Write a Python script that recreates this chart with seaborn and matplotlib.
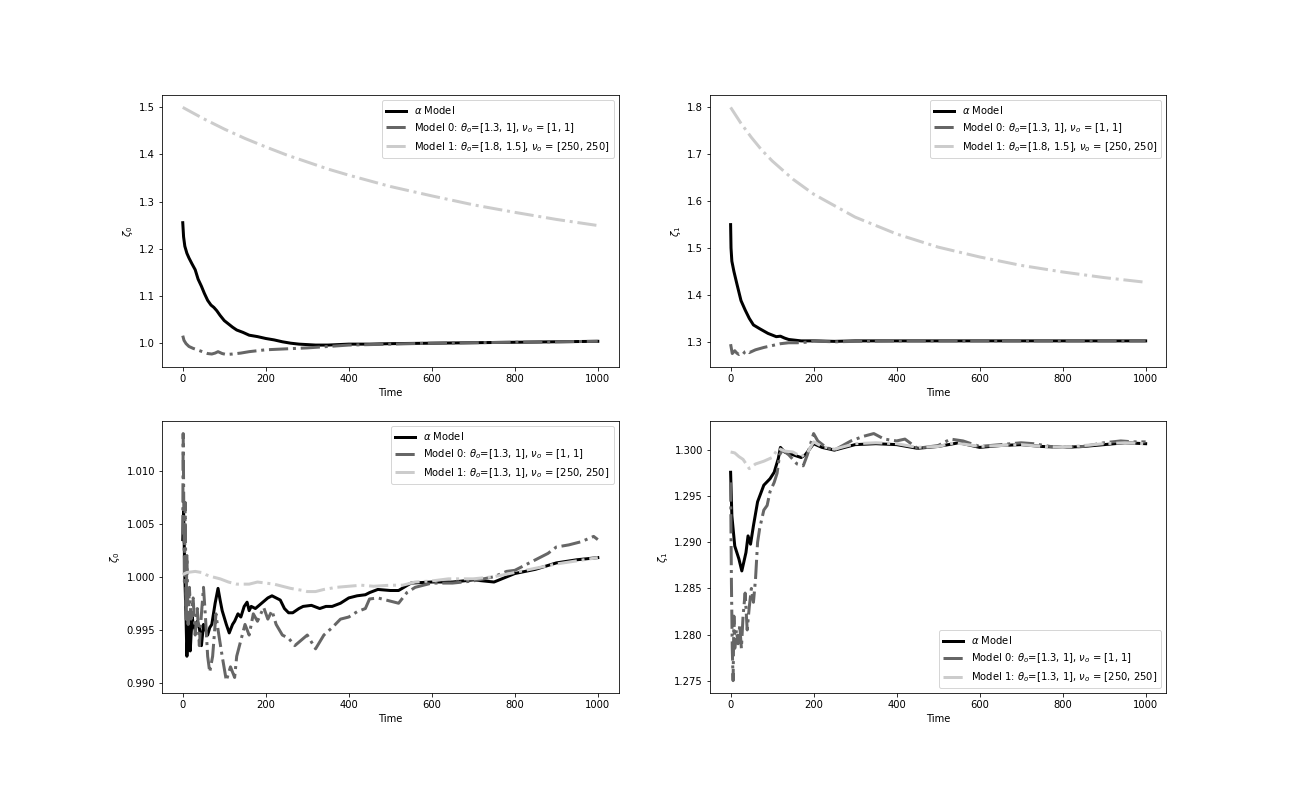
import matplotlib
matplotlib.use("Agg")
import matplotlib.pyplot as plt
import seaborn as sns

# colours / labels
c_alpha = "black"
c_m0 = "0.4"
c_m1 = "0.8"

lab_alpha = r"$\alpha$ Model"
lab_m0 = r"Model 0: $\theta_o$=[1.3, 1], $\nu_o$ = [1, 1]"
lab_m1_top = r"Model 1: $\theta_o$=[1.8, 1.5], $\nu_o$ = [250, 250]"
lab_m1_bot = r"Model 1: $\theta_o$=[1.3, 1], $\nu_o$ = [250, 250]"

# ---- top left: zeta_0, model 1 with far-off prior
t_a0_alpha = [0, 2, 5, 10, 15, 22, 30, 37, 45, 52, 60, 68, 75, 82, 90, 100, 110, 120, 130, 145,
              160, 180, 200, 220, 240, 260, 280, 300, 320, 350, 400, 450, 500, 600, 700, 800, 900, 1000]
z_a0_alpha = [1.255, 1.225, 1.205, 1.190, 1.180, 1.168, 1.155, 1.135, 1.120, 1.105, 1.090, 1.080, 1.075,
              1.068, 1.058, 1.047, 1.040, 1.033, 1.027, 1.022, 1.016, 1.013, 1.009, 1.006, 1.002, 0.999,
              0.997, 0.996, 0.995, 0.995, 0.997, 0.997, 0.998, 0.999, 1.000, 1.001, 1.002, 1.003]
t_a0_m0 = [0, 3, 8, 15, 25, 35, 50, 60, 70, 78, 85, 95, 105, 120, 140, 160, 180, 200, 250, 300,
           350, 400, 500, 600, 700, 800, 900, 1000]
z_a0_m0 = [1.015, 1.005, 0.998, 0.992, 0.988, 0.985, 0.980, 0.977, 0.976, 0.978, 0.981, 0.977, 0.975,
           0.976, 0.978, 0.981, 0.983, 0.985, 0.987, 0.989, 0.992, 0.995, 0.997, 0.999, 1.000, 1.001,
           1.002, 1.003]
t_a0_m1 = [0, 25, 50, 75, 100, 150, 200, 250, 300, 350, 400, 500, 600, 700, 800, 900, 1000]
z_a0_m1 = [1.500, 1.488, 1.476, 1.465, 1.454, 1.434, 1.416, 1.399, 1.384, 1.369, 1.356, 1.332, 1.312,
           1.293, 1.277, 1.262, 1.249]

# ---- top right: zeta_1
t_a1_alpha = [0, 1, 3, 8, 15, 25, 35, 45, 55, 70, 90, 110, 120, 130, 140, 170, 200, 250, 300, 400,
              500, 600, 700, 800, 900, 1000]
z_a1_alpha = [1.550, 1.500, 1.472, 1.450, 1.424, 1.388, 1.368, 1.350, 1.336, 1.328, 1.318, 1.311, 1.312,
              1.308, 1.305, 1.302, 1.302, 1.301, 1.302, 1.302, 1.302, 1.302, 1.302, 1.302, 1.302, 1.302]
t_a1_m0 = [0, 2, 4, 10, 15, 20, 25, 30, 35, 40, 45, 50, 60, 80, 100, 120, 140, 160, 180, 200,
           220, 250, 300, 400, 500, 600, 700, 800, 900, 1000]
z_a1_m0 = [1.295, 1.285, 1.275, 1.281, 1.276, 1.273, 1.276, 1.274, 1.279, 1.281, 1.277, 1.279, 1.283,
           1.288, 1.292, 1.296, 1.298, 1.298, 1.299, 1.302, 1.301, 1.300, 1.301, 1.302, 1.302, 1.302,
           1.302, 1.302, 1.302, 1.302]
t_a1_m1 = [0, 25, 50, 75, 100, 150, 200, 300, 400, 500, 600, 700, 800, 900, 1000]
z_a1_m1 = [1.800, 1.766, 1.736, 1.709, 1.686, 1.647, 1.615, 1.566, 1.530, 1.502, 1.481, 1.463, 1.449,
           1.437, 1.427]

# ---- bottom left: zeta_0, model 1 with correct prior
t_b0_alpha = [0, 2, 5, 8, 10, 13, 15, 18, 20, 23, 25, 30, 35, 40, 45, 50, 55, 60, 65, 70, 78, 85, 90,
              95, 105, 112, 120, 125, 133, 140, 148, 155, 160, 165, 175, 190, 205, 215, 225, 235, 245,
              255, 265, 280, 290, 310, 330, 345, 360, 380, 400, 420, 440, 450, 470, 500, 520, 550, 600,
              650, 700, 750, 800, 850, 900, 950, 1000]
z_b0_alpha = [1.0035, 1.0063, 1.0000, 0.9960, 0.9925, 0.9955, 0.9960, 0.9930, 0.9945, 0.9962, 0.9955,
              0.9950, 0.9958, 0.9952, 0.9935, 0.9955, 0.9950, 0.9945, 0.9952, 0.9955, 0.9975, 0.9989,
              0.9978, 0.9968, 0.9955, 0.9947, 0.9955, 0.9958, 0.9965, 0.9962, 0.9972, 0.9976, 0.9968,
              0.9972, 0.9970, 0.9975, 0.9980, 0.9982, 0.9980, 0.9978, 0.9970, 0.9966, 0.9966, 0.9970,
              0.9972, 0.9973, 0.9970, 0.9972, 0.9972, 0.9975, 0.9980, 0.9982, 0.9983, 0.9985, 0.9988,
              0.9987, 0.9987, 0.9994, 0.9995, 0.9995, 0.9997, 0.9995, 1.0003, 1.0007, 1.0013, 1.0016,
              1.0018]
t_b0_m0 = [0, 1, 2, 4, 6, 8, 10, 13, 16, 20, 25, 30, 35, 40, 45, 50, 55, 60, 65, 72, 80, 85, 95, 105,
           115, 125, 130, 140, 150, 160, 170, 180, 195, 205, 215, 225, 240, 255, 270, 285, 300, 320,
           340, 360, 380, 400, 420, 440, 450, 470, 500, 520, 540, 560, 600, 650, 700, 750, 780, 800,
           830, 850, 880, 900, 930, 960, 990, 1000]
z_b0_m0 = [1.0040, 1.0135, 1.0090, 0.9995, 1.0070, 0.9960, 1.0020, 0.9955, 0.9990, 0.9960, 0.9980,
           0.9945, 0.9970, 0.9935, 0.9965, 0.9990, 0.9960, 0.9925, 0.9910, 0.9925, 0.9965, 0.9950,
           0.9925, 0.9902, 0.9915, 0.9905, 0.9925, 0.9940, 0.9955, 0.9945, 0.9965, 0.9958, 0.9971,
           0.9960, 0.9968, 0.9955, 0.9945, 0.9942, 0.9935, 0.9940, 0.9945, 0.9932, 0.9945, 0.9952,
           0.9960, 0.9962, 0.9967, 0.9970, 0.9979, 0.9980, 0.9977, 0.9975, 0.9985, 0.9990, 0.9994,
           0.9994, 0.9996, 1.0000, 1.0005, 1.0006, 1.0012, 1.0016, 1.0022, 1.0028, 1.0030, 1.0033,
           1.0038, 1.0035]
t_b0_m1 = [0, 10, 30, 45, 55, 70, 90, 110, 130, 160, 180, 200, 220, 240, 260, 275, 290, 300, 320, 340,
           370, 400, 430, 460, 500, 530, 560, 600, 640, 700, 750, 800, 850, 900, 950, 1000]
z_b0_m1 = [1.0002, 1.0004, 1.0005, 1.0004, 1.0002, 1.0000, 0.9998, 0.9995, 0.9993, 0.9993, 0.9995,
           0.9994, 0.9993, 0.9991, 0.9989, 0.9988, 0.9987, 0.9986, 0.9986, 0.9988, 0.9990, 0.9991,
           0.9992, 0.9991, 0.9992, 0.9992, 0.9995, 0.9996, 0.9998, 0.9998, 1.0000, 1.0004, 1.0008,
           1.0012, 1.0015, 1.0018]

# ---- bottom right: zeta_1
t_b1_alpha = [0, 3, 10, 20, 27, 37, 42, 48, 55, 65, 80, 95, 105, 115, 120, 130, 150, 170, 180, 200,
              220, 250, 300, 350, 400, 450, 500, 550, 600, 650, 700, 750, 800, 850, 900, 950, 1000]
z_b1_alpha = [1.2976, 1.2929, 1.2896, 1.2882, 1.2869, 1.2889, 1.2907, 1.2898, 1.2918, 1.2944, 1.2962,
              1.2969, 1.2976, 1.2991, 1.3003, 1.2998, 1.2995, 1.2992, 1.2995, 1.3007, 1.3003, 1.3000,
              1.3006, 1.3007, 1.3006, 1.3002, 1.3004, 1.3008, 1.3003, 1.3005, 1.3006, 1.3004, 1.3003,
              1.3004, 1.3006, 1.3008, 1.3007]
t_b1_m0 = [0, 2, 4, 6, 8, 10, 14, 18, 22, 26, 30, 35, 40, 45, 50, 55, 60, 65, 70, 75, 80, 88, 95, 105,
           112, 118, 125, 140, 160, 175, 185, 200, 210, 230, 250, 270, 290, 320, 345, 370, 400, 420,
           450, 500, 530, 560, 600, 650, 700, 730, 770, 800, 850, 900, 940, 970, 1000]
z_b1_m0 = [1.2965, 1.2855, 1.2785, 1.2750, 1.2820, 1.2785, 1.2805, 1.2790, 1.2810, 1.2785, 1.2820,
           1.2845, 1.2805, 1.2830, 1.2850, 1.2835, 1.2860, 1.2900, 1.2915, 1.2925, 1.2935, 1.2940,
           1.2955, 1.2965, 1.2975, 1.2995, 1.3000, 1.2995, 1.2985, 1.2983, 1.2995, 1.3018, 1.3010,
           1.3003, 1.3000, 1.3005, 1.3010, 1.3015, 1.3018, 1.3012, 1.3010, 1.3012, 1.3002, 1.3005,
           1.3012, 1.3010, 1.3004, 1.3006, 1.3008, 1.3007, 1.3004, 1.3003, 1.3004, 1.3008, 1.3010,
           1.3009, 1.3009]
t_b1_m1 = [0, 10, 20, 30, 45, 60, 80, 100, 115, 130, 150, 170, 185, 200, 220, 250, 300, 350, 400, 450,
           500, 540, 600, 650, 700, 750, 800, 850, 900, 950, 1000]
z_b1_m1 = [1.2998, 1.2997, 1.2993, 1.2990, 1.2980, 1.2985, 1.2988, 1.2992, 1.3002, 1.2999, 1.2998,
           1.2993, 1.2997, 1.3009, 1.3004, 1.3001, 1.3007, 1.3008, 1.3007, 1.3003, 1.3004, 1.3008,
           1.3004, 1.3005, 1.3006, 1.3004, 1.3003, 1.3005, 1.3007, 1.3008, 1.3007]


def draw_panel(ax, series, ylabel, legend_loc):
    for t, z, color, style, label in series:
        sns.lineplot(x=t, y=z, color=color, linestyle=style, linewidth=3,
                     label=label, ax=ax, sort=False, estimator=None)
    ax.set_xlabel("Time")
    ax.set_ylabel(ylabel)
    ax.legend(loc=legend_loc)


fig, axes = plt.subplots(2, 2, figsize=(18, 11), dpi=72)
fig.subplots_adjust(left=0.125, right=0.9, bottom=0.125, top=0.88, wspace=0.2, hspace=0.2)

draw_panel(axes[0, 0], [
    (t_a0_alpha, z_a0_alpha, c_alpha, "-", lab_alpha),
    (t_a0_m0, z_a0_m0, c_m0, "-.", lab_m0),
    (t_a0_m1, z_a0_m1, c_m1, "-.", lab_m1_top),
], r"$\zeta_0$", "upper right")

draw_panel(axes[0, 1], [
    (t_a1_alpha, z_a1_alpha, c_alpha, "-", lab_alpha),
    (t_a1_m0, z_a1_m0, c_m0, "-.", lab_m0),
    (t_a1_m1, z_a1_m1, c_m1, "-.", lab_m1_top),
], r"$\zeta_1$", "upper right")

draw_panel(axes[1, 0], [
    (t_b0_alpha, z_b0_alpha, c_alpha, "-", lab_alpha),
    (t_b0_m0, z_b0_m0, c_m0, "-.", lab_m0),
    (t_b0_m1, z_b0_m1, c_m1, "-.", lab_m1_bot),
], r"$\zeta_0$", "upper right")

draw_panel(axes[1, 1], [
    (t_b1_alpha, z_b1_alpha, c_alpha, "-", lab_alpha),
    (t_b1_m0, z_b1_m0, c_m0, "-.", lab_m0),
    (t_b1_m1, z_b1_m1, c_m1, "-.", lab_m1_bot),
], r"$\zeta_1$", "lower right")

fig.savefig("out.png", dpi=72)
